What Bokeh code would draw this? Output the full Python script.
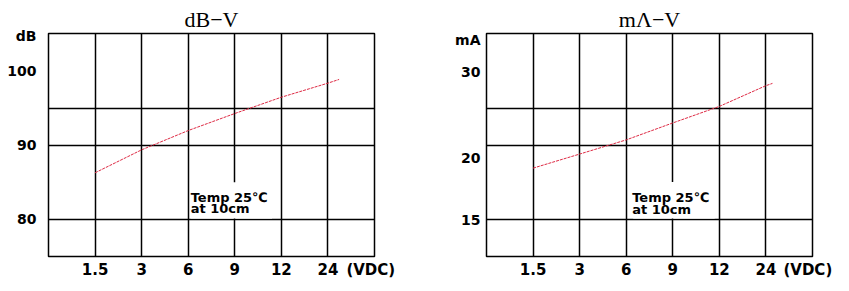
from bokeh.plotting import figure
from bokeh.layouts import row
from bokeh.models import Range1d, FixedTicker, Label, BoxAnnotation, NumeralTickFormatter
from bokeh.embed import file_html
from bokeh.resources import INLINE

# ---- data ----
voltage_labels = ["1.5", "3", "6", "9", "12", "24"]
voltage_pos = [1, 2, 3, 4, 5, 6]
unit_label = "(VDC)"

db_curve_x = [1, 2, 3, 4, 5, 6, 6.24]
db_curve_y = [86.3, 89.4, 92.0, 94.3, 96.5, 98.4, 98.9]
db_ticks = [80, 90, 100]
db_grid = [80, 90, 95]

ma_curve_x = [1, 2, 3, 4, 5, 6, 6.14]
ma_curve_y = [19.1, 20.4, 21.8, 23.6, 25.5, 28.1, 28.4]
ma_ticks = [15, 20, 30]
ma_grid = [15, 21.2, 25.2]

LINE_RED = "#dd2a44"
SANS = "DejaVu Sans"
SERIF = "Liberation Serif"


def base_fig(width, border_left, border_right, y_range, y_type, label_standoff,
             title, unit_pos, y_ticks, y_unit, y_unit_pos):
    p = figure(width=width, height=291, x_range=Range1d(0, 7), y_range=y_range,
               y_axis_type=y_type, output_backend="svg", toolbar_location=None,
               min_border_left=border_left, min_border_right=border_right,
               min_border_top=33, min_border_bottom=35, title=title)
    p.title.align = "center"
    p.title.text_font = SERIF
    p.title.text_font_style = "normal"
    p.title.text_font_size = "22px"
    p.title.text_color = "black"
    p.title.standoff = 4
    p.outline_line_color = "black"
    p.outline_line_width = 1.5
    p.background_fill_color = "white"
    p.border_fill_color = "white"
    for ax in (p.xaxis[0], p.yaxis[0]):
        ax.axis_line_color = None
        ax.major_tick_line_color = None
        ax.minor_tick_line_color = None
        ax.major_tick_in = 0
        ax.major_tick_out = 0
        ax.minor_tick_in = 0
        ax.minor_tick_out = 0
        ax.major_label_text_font = SANS
        ax.major_label_text_font_style = "bold"
        ax.major_label_text_color = "black"
    p.xaxis.major_label_text_font_size = "15px"
    p.yaxis.major_label_text_font_size = "14px"
    p.xaxis.ticker = FixedTicker(ticks=voltage_pos + [unit_pos])
    ov = {k: v for k, v in zip(voltage_pos, voltage_labels)}
    ov[unit_pos] = unit_label
    p.xaxis.major_label_overrides = ov
    p.xaxis.major_label_standoff = 4
    p.yaxis.ticker = FixedTicker(ticks=y_ticks + [y_unit_pos])
    yov = {t: str(t) for t in y_ticks}
    yov[y_unit_pos] = y_unit
    p.yaxis.major_label_overrides = yov
    p.yaxis.major_label_standoff = label_standoff
    p.xgrid.ticker = FixedTicker(ticks=voltage_pos)
    for g in (p.xgrid[0], p.ygrid[0]):
        g.grid_line_color = "black"
        g.grid_line_width = 1.5
        g.grid_line_alpha = 1.0
    return p


def add_text(p, x, y, text, size="13px"):
    p.add_layout(Label(x=x, y=y, text=text, text_font=SANS, text_font_style="bold",
                       text_font_size=size, text_align="left", text_baseline="alphabetic",
                       text_color="black"))


# ---- left: dB - V ----
p1 = base_fig(420, 48, 46, Range1d(75, 105.1), "linear", 12,
              "dB\u2212V", 6.92, db_ticks, "dB", 104.7)
p1.ygrid.ticker = FixedTicker(ticks=db_grid)
p1.add_layout(BoxAnnotation(left=3.05, right=4.8, bottom=80.13, top=85.03,
                            fill_color="white", fill_alpha=1.0, line_color=None))
p1.line(db_curve_x, db_curve_y, line_color=LINE_RED, line_width=1, line_dash="3 1")
add_text(p1, 3.053, 83.02, "Temp 25\u2103")
add_text(p1, 3.053, 81.44, "at 10cm")

# ---- right: mA - V ----
p2 = base_fig(429, 66, 37, Range1d(12.63, 35.87), "log", 6,
              "m\u039b\u2212V", 6.9, ma_ticks, "mA", 34.72)
p2.yaxis.formatter = NumeralTickFormatter(format="0")
p2.ygrid.ticker = FixedTicker(ticks=ma_grid)
p2.add_layout(BoxAnnotation(left=3.15, right=4.9, bottom=15.09, top=17.89,
                            fill_color="white", fill_alpha=1.0, line_color=None))
p2.line(ma_curve_x, ma_curve_y, line_color=LINE_RED, line_width=1, line_dash="3 1")
add_text(p2, 3.129, 16.65, "Temp 25\u2103")
add_text(p2, 3.129, 15.76, "at 10cm")

layout = row(p1, p2)
open("out.html", "w").write(file_html(layout, INLINE))
